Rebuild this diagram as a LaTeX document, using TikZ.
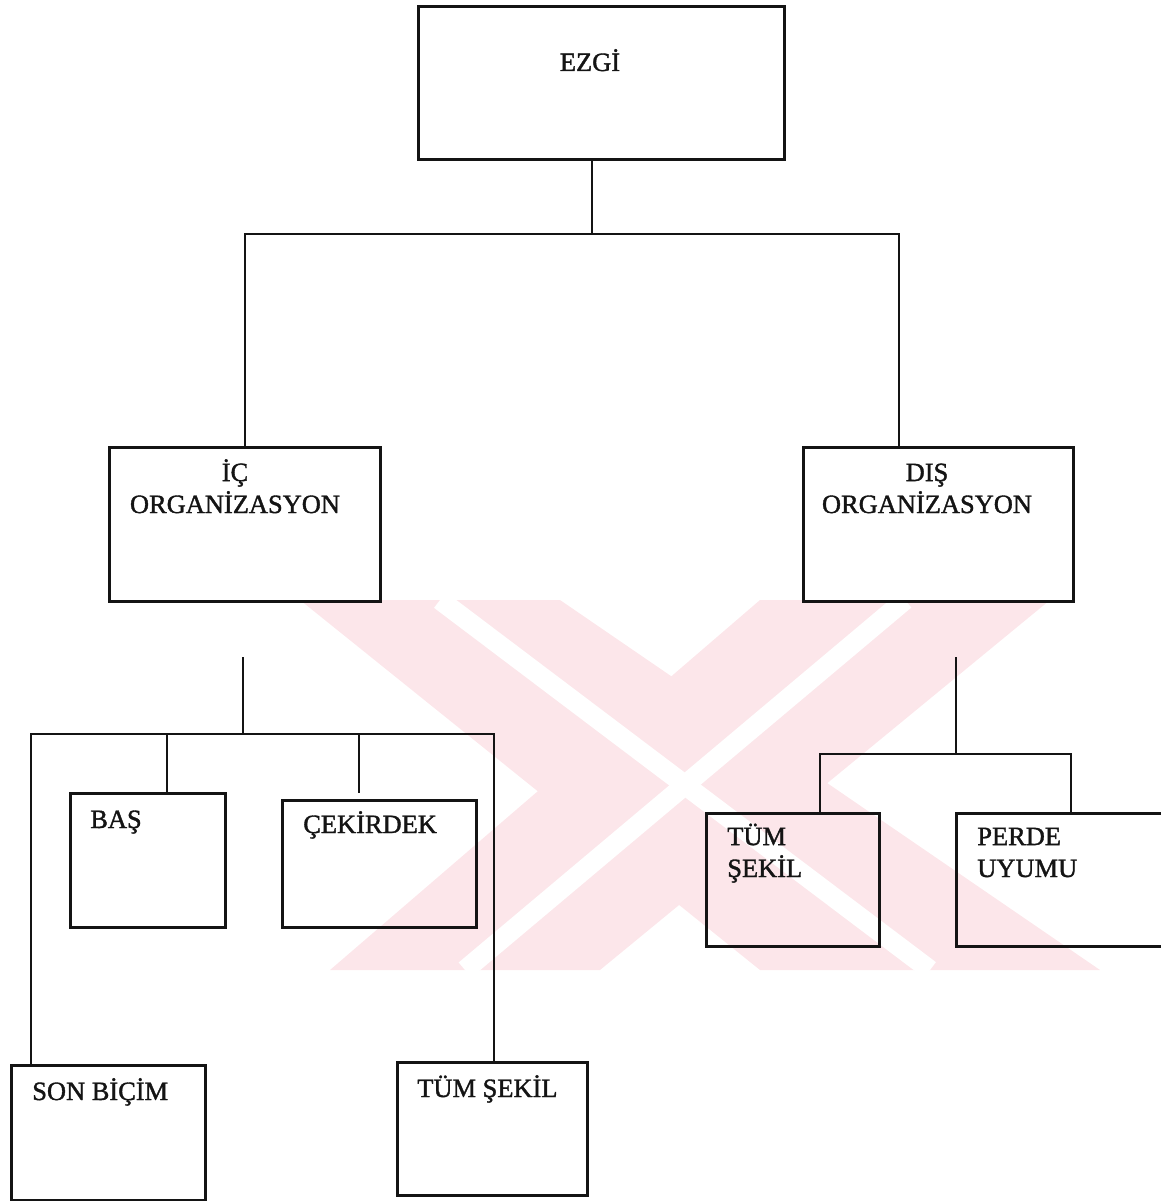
\documentclass[tikz,border=0pt]{standalone}
\usepackage{fontspec}
\setmainfont{Liberation Serif}[FakeBold=1.4]
\usepackage{xcolor}
\definecolor{ink}{HTML}{141414}
\definecolor{wmark}{HTML}{FCE6EA}
\usetikzlibrary{calc,positioning}

\newcommand{\pu}{0.025cm}
\tikzset{
	box/.style={draw=ink, line width=2.1pt, rectangle, inner sep=0pt, anchor=north west},
	lbl/.style={ink, inner sep=0pt, align=left, font=\fontsize{18.8}{22.7}\selectfont},
	conn/.style={ink, line width=2.1pt},
}

\begin{document}
\begin{tikzpicture}[x=\pu, y=-\pu]

		\useasboundingbox (0,0) rectangle (1160,1201);

		% ================= background stamp =================
		\fill[wmark] (300,600) -- (560,600) -- (1100,970) -- (760,970) -- cycle;
		\fill[wmark] (760,600) -- (1050,600) -- (600,970) -- (330,970) -- cycle;
		\draw[white, line width=14pt] (440,600) -- (930,970);
		\draw[white, line width=14pt] (905,600) -- (465,970);

		% ================= top level =================
		\node[box, minimum width=366*\pu, minimum height=153*\pu] (ezgi) at (417,5) {};
		\node[lbl, anchor=base] (tezgi) at (590,71) {EZGİ};

		\node[box, minimum width=271*\pu, minimum height=154*\pu] (ic) at (108,446) {};
		\node[lbl, anchor=base, align=center] (tic) at (235,513) {İÇ\\ORGANİZASYON};

		\node[box, minimum width=270*\pu, minimum height=154*\pu] (dis) at (802,446) {};
		\node[lbl, anchor=base, align=center] (tdis) at (927,513) {DIŞ\\ORGANİZASYON};

		% ezgi -> iç / dış
		\coordinate (ezgijoin) at (592,234);
		\coordinate (busR) at (899,234);
		\draw[conn] (ezgijoin |- ezgi.south) -- (ezgijoin);
		\draw[conn] (ic.north) |- (busR) -- (busR |- dis.north);

		% ================= iç organizasyon =================
		\node[box, minimum width=155*\pu, minimum height=134*\pu] (bas) at (69,792) {};
		\node[lbl, anchor=base west] (tbas) at (90,828) {BAŞ};

		\node[box, minimum width=194*\pu, minimum height=127*\pu] (cek) at (281,799) {};
		\node[lbl, anchor=base west] (tcek) at (303,833) {ÇEKİRDEK};

		\node[box, minimum width=194*\pu, minimum height=135*\pu] (son) at (10,1064) {};
		\node[lbl, anchor=base west] (tson) at (32,1100) {SON BİÇİM};

		\node[box, minimum width=190*\pu, minimum height=133*\pu] (tumb) at (396,1061) {};
		\node[lbl, anchor=base west] (ttumb) at (417,1097) {TÜM ŞEKİL};

		\coordinate (icstem) at (243,657);
		\coordinate (icbus) at (243,734);
		\coordinate (sonjoin) at (31,734);
		\coordinate (basjoin) at (167,734);
		\coordinate (cekjoin) at (359,734);
		\coordinate (tumbjoin) at (494,734);
		\draw[conn] (icstem) -- (icbus);
		\draw[conn] (son.north -| sonjoin) -- (sonjoin) -- (tumbjoin) -- (tumbjoin |- tumb.north);
		\draw[conn] (basjoin) -- (basjoin |- bas.north);
		\draw[conn] (cekjoin) -- ($(cekjoin |- cek.north)+(0,-6)$);

		% ================= dış organizasyon =================
		\node[box, minimum width=173*\pu, minimum height=133*\pu] (tuma) at (705,812) {};
		\node[lbl, anchor=base west] (ttuma) at (727,877) {TÜM\\ŞEKİL};

		\node[box, minimum width=245*\pu, minimum height=133*\pu] (perde) at (955,812) {};
		\node[lbl, anchor=base west] (tperde) at (977,877) {PERDE\\UYUMU};

		\coordinate (disstem) at (956,657);
		\coordinate (disbus) at (956,754);
		\coordinate (tumajoin) at (820,754);
		\coordinate (perdejoin) at (1071,754);
		\draw[conn] (disstem) -- (disbus);
		\draw[conn] (tuma.north -| tumajoin) -- (tumajoin) -- (perdejoin) -- (perdejoin |- perde.north);

	\end{tikzpicture}
\end{document}
